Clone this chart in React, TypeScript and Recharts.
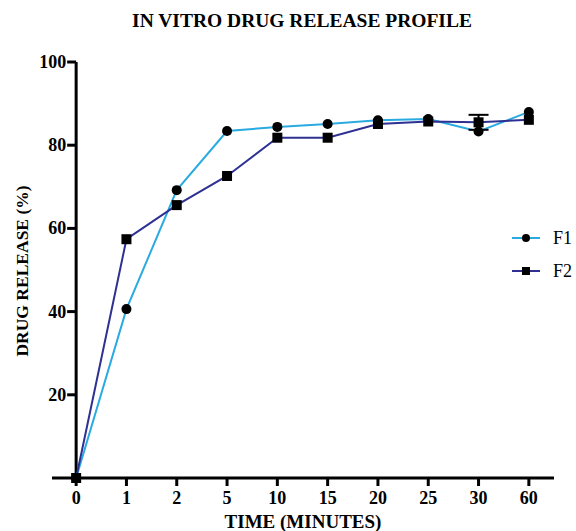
import { ErrorBar, Line, LineChart, ReferenceLine, XAxis, YAxis } from "recharts"

const timeLabels = ["0", "1", "2", "5", "10", "15", "20", "25", "30", "60"]
const f1Values = [0, 40.6, 69.2, 83.4, 84.4, 85.1, 86.0, 86.3, 83.3, 88.0]
const f2Values = [0, 57.4, 65.6, 72.6, 81.8, 81.8, 85.1, 85.7, 85.5, 86.1]
const f2Errors = [0, 0, 0, 0, 0, 0, 0, 0, 1.8, 0]
const yTicks = [20, 40, 60, 80, 100]
const seriesNames = ["F1", "F2"]
const seriesColors = ["#29abe2", "#2e3192"]

const WIDTH = 576
const HEIGHT = 531
const MARGIN = { top: 62, right: 22, bottom: 23, left: 0 }
const Y_AXIS_WIDTH = 52
const X_DOMAIN: [number, number] = [-0.48, 9.5]
const FONT = "Liberation Serif, Times New Roman, serif"

const data = timeLabels.map((t, i) => ({
  idx: i,
  time: t,
  f1: f1Values[i],
  f2: f2Values[i],
  f2Err: f2Errors[i],
}))

// distance from plot's left edge to x = 0, where the y axis sits
const plotWidth = WIDTH - MARGIN.left - MARGIN.right - Y_AXIS_WIDTH
const yAxisShift = ((0 - X_DOMAIN[0]) / (X_DOMAIN[1] - X_DOMAIN[0])) * plotWidth

const YTick = (props: any) => {
  const { x, y, payload } = props
  const ax = x + yAxisShift
  return (
    <g>
      <line x1={ax - 9} x2={ax} y1={y} y2={y} stroke="#000" strokeWidth={3} />
      <text
        x={ax - 10}
        y={y}
        textAnchor="end"
        dominantBaseline="central"
        fontFamily={FONT}
        fontWeight="bold"
        fontSize={18}
        fill="#000"
      >
        {payload.value}
      </text>
    </g>
  )
}

const CircleDot = (props: any) => {
  const { cx, cy } = props
  if (cx == null || cy == null) return null
  return <circle cx={cx} cy={cy} r={5} fill="#000" />
}

const SquareDot = (props: any) => {
  const { cx, cy } = props
  if (cx == null || cy == null) return null
  return <rect x={cx - 5} y={cy - 5} width={10} height={10} fill="#000" />
}

export default function App() {
  return (
    <div style={{ position: "absolute", left: 0, top: 0, width: WIDTH, height: HEIGHT, background: "#fff" }}>
      <LineChart width={WIDTH} height={HEIGHT} data={data} margin={MARGIN}>
        <XAxis
          type="number"
          dataKey="idx"
          domain={X_DOMAIN}
          ticks={timeLabels.map((_, i) => i)}
          tickFormatter={(v: number) => timeLabels[v]}
          axisLine={{ stroke: "#000", strokeWidth: 3 }}
          tickLine={{ stroke: "#000", strokeWidth: 3 }}
          tickSize={8}
          tickMargin={5}
          height={30}
          tick={{ fill: "#000", fontFamily: FONT, fontWeight: "bold", fontSize: 18 }}
        />
        <YAxis
          type="number"
          domain={[0, 100]}
          ticks={yTicks}
          width={Y_AXIS_WIDTH}
          axisLine={false}
          tickLine={false}
          tickSize={0}
          tickMargin={0}
          tick={<YTick />}
        />
        <ReferenceLine x={0} stroke="#000" strokeWidth={3} />
        <Line
          dataKey="f1"
          name={seriesNames[0]}
          stroke={seriesColors[0]}
          strokeWidth={2}
          dot={<CircleDot />}
          isAnimationActive={false}
        />
        <Line
          dataKey="f2"
          name={seriesNames[1]}
          stroke={seriesColors[1]}
          strokeWidth={2}
          dot={<SquareDot />}
          isAnimationActive={false}
        >
          <ErrorBar dataKey="f2Err" direction="y" width={10} stroke="#000" strokeWidth={2} />
        </Line>
      </LineChart>
      <svg
        width={WIDTH}
        height={HEIGHT}
        style={{ position: "absolute", left: 0, top: 0, pointerEvents: "none" }}
        fontFamily={FONT}
        fontWeight="bold"
      >
        <text x={302} y={20} textAnchor="middle" dominantBaseline="central" fontSize={19.5}>
          IN VITRO DRUG RELEASE PROFILE
        </text>
        <text x={303} y={521} textAnchor="middle" dominantBaseline="central" fontSize={19}>
          TIME (MINUTES)
        </text>
        <text
          x={22}
          y={271}
          textAnchor="middle"
          dominantBaseline="central"
          fontSize={17.5}
          transform="rotate(-90 22 271)"
        >
          DRUG RELEASE (%)
        </text>
        {seriesNames.map((name, i) => {
          const ly = 238 + i * 33
          return (
            <g key={name}>
              <line x1={512} x2={540} y1={ly} y2={ly} stroke={seriesColors[i]} strokeWidth={2} />
              {i === 0 ? (
                <circle cx={526} cy={ly} r={4} fill="#000" />
              ) : (
                <rect x={522} y={ly - 4} width={8} height={8} fill="#000" />
              )}
              <text x={553} y={ly} dominantBaseline="central" fontSize={18} fontWeight="normal">
                {name}
              </text>
            </g>
          )
        })}
      </svg>
    </div>
  )
}
